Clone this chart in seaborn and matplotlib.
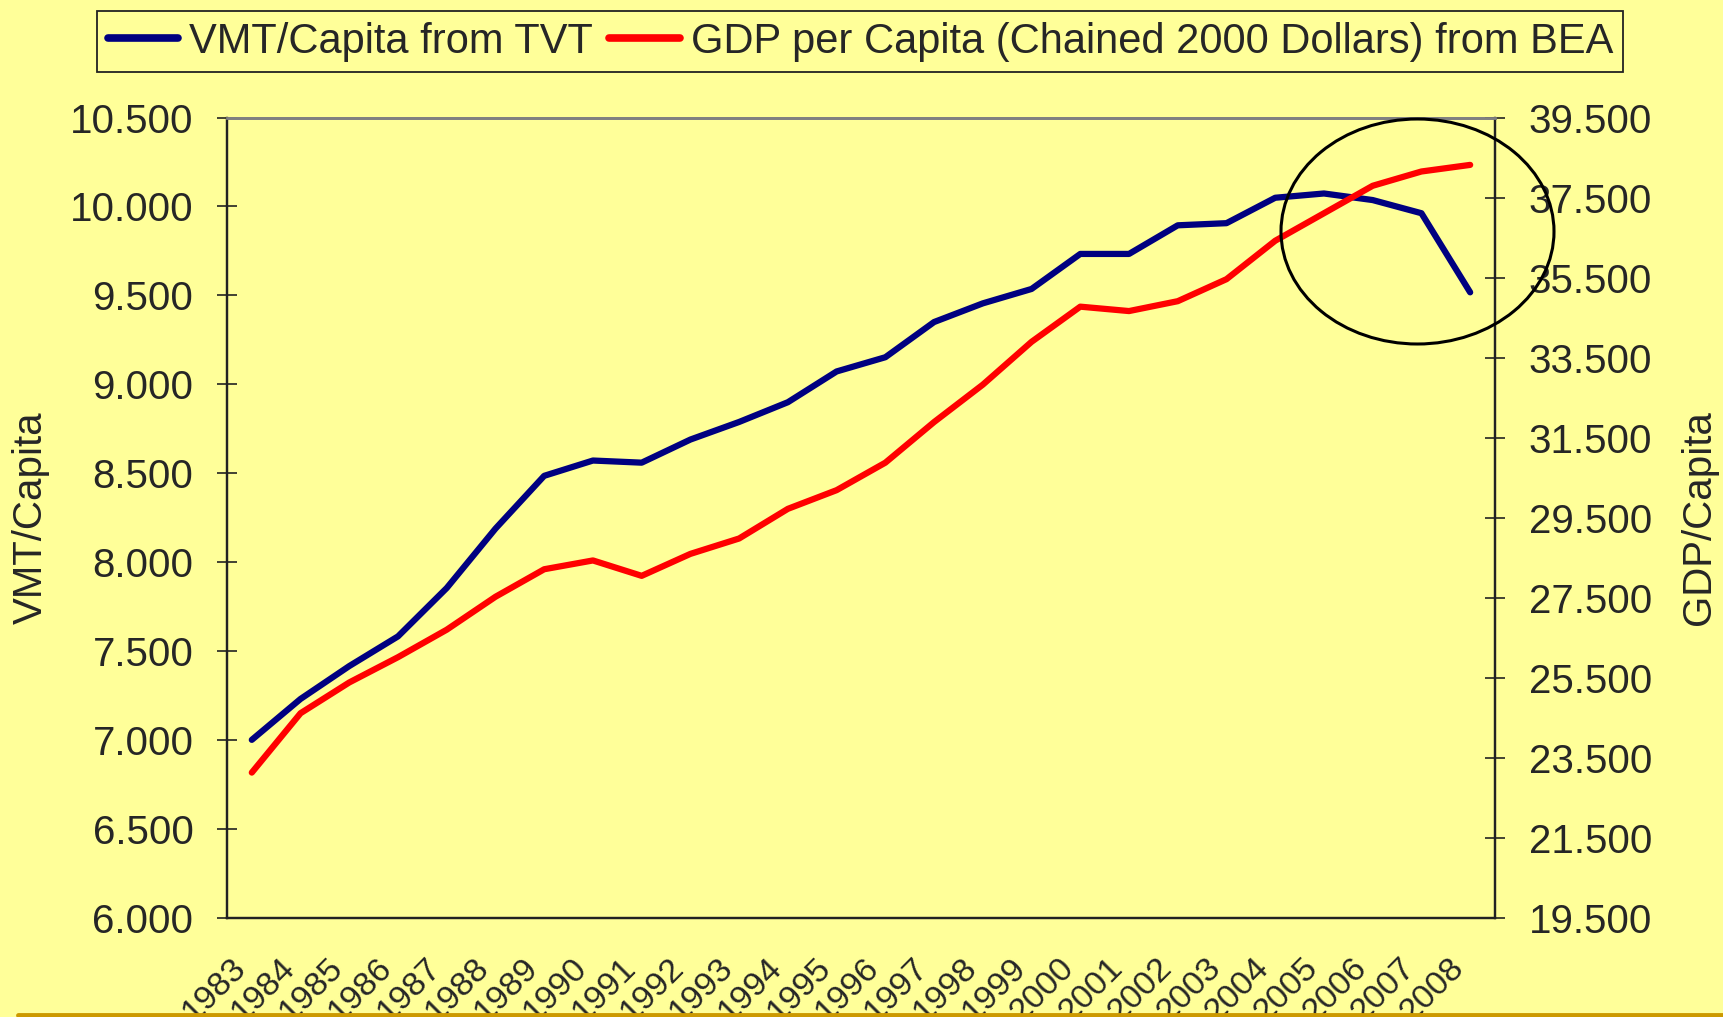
import matplotlib
matplotlib.use('Agg')
import matplotlib.pyplot as plt
import matplotlib.ticker as mticker
import matplotlib.transforms as mtransforms
from matplotlib.patches import Ellipse
from matplotlib.lines import Line2D
import numpy as np
import seaborn as sns

years = [str(y) for y in range(1983, 2009)]
vmt_per_capita = [7000, 7230, 7415, 7582, 7854, 8188, 8485, 8571, 8559, 8689,
                  8788, 8899, 9072, 9152, 9350, 9455, 9536, 9733, 9733, 9894,
                  9906, 10049, 10073, 10036, 9962, 9517]
gdp_per_capita = [23126, 24610, 25379, 26011, 26698, 27521, 28209, 28429, 28044, 28593,
                  28978, 29719, 30186, 30873, 31889, 32823, 33894, 34773, 34663, 34910,
                  35460, 36421, 37108, 37795, 38152, 38317]

bg = '#FFFF99'
blue = '#000080'
red = '#FF0000'

sns.set_theme(style='white')
plt.rcParams['font.family'] = ['Liberation Sans', 'DejaVu Sans']

fig = plt.figure(figsize=(17.23, 10.17), dpi=100, facecolor=bg)
ax = fig.add_axes([0.132, 0.0977, 0.7354, 0.7867])
ax.set_facecolor(bg)
ax2 = ax.twinx()

pos = np.arange(len(years))
sns.lineplot(x=pos, y=vmt_per_capita, ax=ax, color=blue, linewidth=4.5,
             solid_capstyle='round', solid_joinstyle='round')
sns.lineplot(x=pos, y=gdp_per_capita, ax=ax2, color=red, linewidth=4.5,
             solid_capstyle='round', solid_joinstyle='round')

ax.set_xlim(-0.5, len(years) - 0.5)
ax.set_ylim(6000, 10500)
ax2.set_ylim(19500, 39500)
ax.set_yticks(np.arange(6000, 10501, 500))
ax2.set_yticks(np.arange(19500, 39501, 2000))

dotfmt = mticker.FuncFormatter(lambda v, p: f'{v:,.0f}'.replace(',', '.'))
ax.yaxis.set_major_formatter(dotfmt)
ax2.yaxis.set_major_formatter(dotfmt)

# category boundaries get the ticks, labels sit at the centres
ax.set_xticks(np.arange(-0.5, len(years)), labels=[])
ax.set_xticks(pos, minor=True)
ax.set_xticklabels(years, minor=True, rotation=45, ha='right', va='center',
                   rotation_mode='anchor', fontsize=24.5)
ax.tick_params(axis='x', which='major', direction='inout', length=16, width=1.2, color='#222222')
ax.tick_params(axis='x', which='minor', length=0, pad=33)
shift = mtransforms.ScaledTranslation(-11 / 100, 0, fig.dpi_scale_trans)
for lbl in ax.get_xticklabels(minor=True):
    lbl.set_transform(lbl.get_transform() + shift)

ax.tick_params(axis='y', direction='inout', length=15, width=1.2, color='#222222',
               labelsize=29, pad=17, left=True)
ax2.tick_params(axis='y', direction='inout', length=15, width=1.2, color='#222222',
                labelsize=29, pad=17, right=True)

for a in (ax, ax2):
    a.set_ylabel('')
    a.grid(False)
    for side in ('left', 'right', 'bottom'):
        a.spines[side].set_color('#222222')
        a.spines[side].set_linewidth(1.6)
    a.spines['top'].set_color('#808080')
    a.spines['top'].set_linewidth(2)

fig.text(31 / 1723, 0.5 * (0.0977 + 0.8844), 'VMT/Capita', rotation=90,
         ha='center', va='center', fontsize=29)
fig.text(1699 / 1723, 0.5 * (0.0977 + 0.8844), 'GDP/Capita', rotation=90,
         ha='center', va='center', fontsize=29)

handles = [Line2D([], [], color=blue, linewidth=5.5),
           Line2D([], [], color=red, linewidth=5.5)]
leg = fig.legend(handles, ['VMT/Capita from TVT',
                           'GDP per Capita (Chained 2000 Dollars) from BEA'],
                 loc='center', bbox_to_anchor=(0.4993, 0.959), ncol=2,
                 fontsize=30, frameon=True, fancybox=False, facecolor=bg,
                 edgecolor='#222222', framealpha=1, handlelength=1.7,
                 handletextpad=0.25, columnspacing=0.4, borderpad=0.25,
                 borderaxespad=0)
leg.get_frame().set_linewidth(1.3)

# the circle drawn round the recent years
fig.add_artist(Ellipse((1417.5 / 1723, 1 - 231.5 / 1017), 273 / 1723, 225 / 1017,
                       transform=fig.transFigure, fill=False, edgecolor='black',
                       linewidth=2.2))

# gold strip along the bottom edge
fig.add_artist(Line2D([18 / 1723, 1], [1.8 / 1017, 1.8 / 1017], transform=fig.transFigure,
                      color='#CC9900', linewidth=3.5))

fig.savefig('out.png', dpi=100, facecolor=bg)
